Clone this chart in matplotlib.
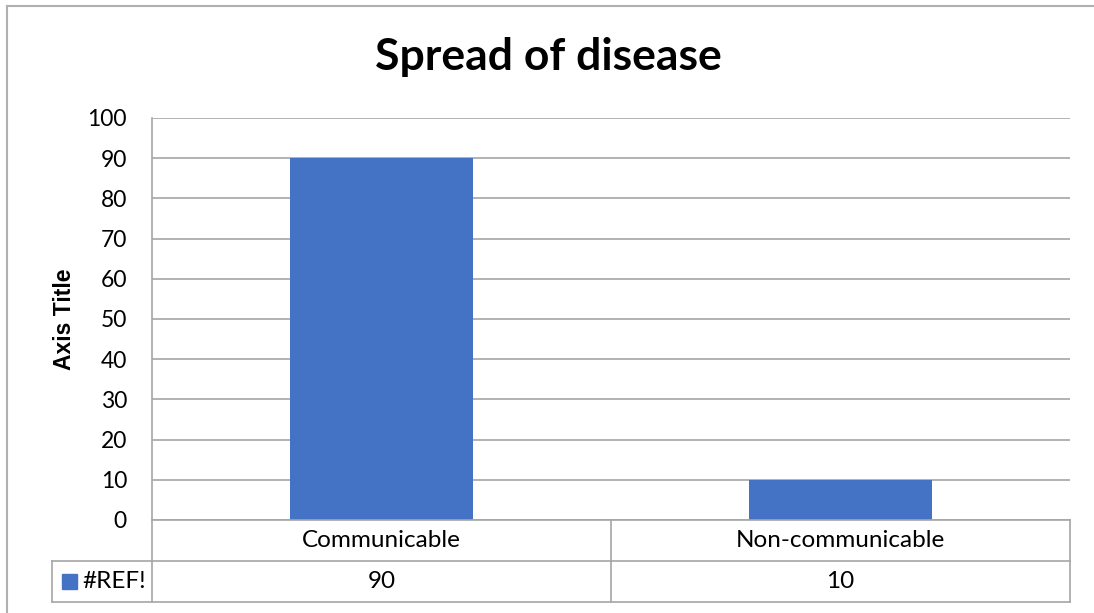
import matplotlib
matplotlib.use("Agg")
import matplotlib.pyplot as plt
from matplotlib import transforms
from matplotlib.patches import Rectangle
from matplotlib.lines import Line2D

# Chart data
categories = ["Communicable", "Non-communicable"]
values = [90, 10]
series_name = "#REF!"
title = "Spread of disease"
y_label = "Axis Title"
y_ticks = [0, 10, 20, 30, 40, 50, 60, 70, 80, 90, 100]

BAR_COLOR = "#4472C4"
GRID_COLOR = "#A6A6A6"
TEXT_FONT = "Lato"

W, H = 1094, 613
fig = plt.figure(figsize=(W / 100, H / 100), dpi=100)
fig.patch.set_facecolor("white")


def fx(px):
    return px / W


def fy(py):
    # pixel rows counted from the top of the image
    return 1 - py / H


# plot area in pixels
left, right, top, base = 152, 1070, 118, 520
row1, row2 = 561, 602
legend_left = 52

ax = fig.add_axes([fx(left), fy(base), fx(right - left), (base - top) / H])
x = list(range(len(categories)))
ax.bar(x, values, width=0.4, color=BAR_COLOR, zorder=3)
ax.set_xlim(-0.5, len(categories) - 0.5)
ax.set_ylim(y_ticks[0], y_ticks[-1])
ax.set_yticks(y_ticks)
ax.set_yticklabels([str(t) for t in y_ticks], fontfamily=TEXT_FONT, fontsize=16.5)
ax.tick_params(axis="y", length=0, pad=18)
ax.set_xticks([])
ax.grid(axis="y", color=GRID_COLOR, linewidth=1.2, zorder=0)
for side in ("top", "right", "bottom"):
    ax.spines[side].set_visible(False)
ax.spines["left"].set_color(GRID_COLOR)
ax.spines["left"].set_linewidth(1.2)

ax.set_ylabel(y_label, fontfamily="Liberation Sans", fontweight="bold", fontsize=16.5)
ax.yaxis.set_label_coords((76 - left) / (right - left), 0.5)

fig.text(fx(548), fy(57), title, ha="center", va="center",
         fontfamily=TEXT_FONT, fontweight="bold", fontsize=32)

# data table beneath the axis
line_kw = dict(color=GRID_COLOR, linewidth=1.2, transform=fig.transFigure)
fig.add_artist(Line2D([fx(left), fx(right)], [fy(base), fy(base)], **line_kw))
for yy in (row1, row2):
    fig.add_artist(Line2D([fx(legend_left), fx(right)], [fy(yy), fy(yy)], **line_kw))
fig.add_artist(Line2D([fx(legend_left), fx(legend_left)], [fy(row1), fy(row2)], **line_kw))
fig.add_artist(Line2D([fx(left), fx(left)], [fy(base), fy(row2)], **line_kw))
fig.add_artist(Line2D([fx(right), fx(right)], [fy(base), fy(row2)], **line_kw))

blend = transforms.blended_transform_factory(ax.transData, fig.transFigure)
for i in range(1, len(categories)):
    fig.add_artist(Line2D([i - 0.5, i - 0.5], [fy(base), fy(row2)], color=GRID_COLOR,
                          linewidth=1.2, transform=blend))

for i, (cat, val) in enumerate(zip(categories, values)):
    fig.text(i, fy((base + row1) / 2), cat, transform=blend, ha="center", va="center",
             fontfamily=TEXT_FONT, fontsize=17.5)
    fig.text(i, fy((row1 + row2) / 2), f"{val:g}", transform=blend, ha="center",
             va="center", fontfamily=TEXT_FONT, fontsize=17.5)

fig.add_artist(Rectangle((fx(62), fy(589)), fx(15), 15 / H, color=BAR_COLOR,
                         transform=fig.transFigure))
fig.text(fx(82), fy((row1 + row2) / 2), series_name, ha="left", va="center",
         fontfamily=TEXT_FONT, fontsize=17.5)

# chart frame (top and left edges)
frame_kw = dict(color="#B0B0B0", linewidth=1.5, transform=fig.transFigure)
fig.add_artist(Line2D([fx(7), 1], [fy(6), fy(6)], **frame_kw))
fig.add_artist(Line2D([fx(7), fx(7)], [fy(6), 0], **frame_kw))

fig.savefig("out.png", dpi=100)
